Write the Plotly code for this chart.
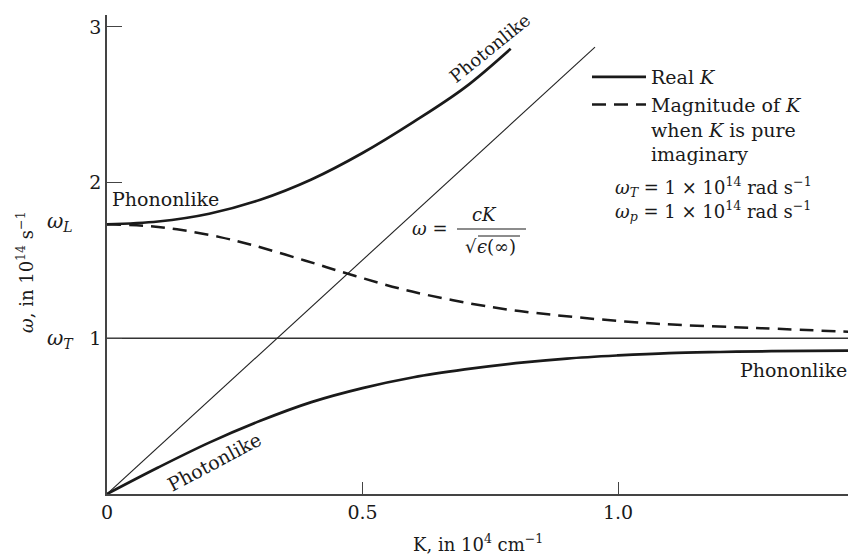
import plotly.graph_objects as go

# ---- data (K in 1e4 cm^-1, omega in 1e14 s^-1) ----
K_upper = [0.0, 0.1, 0.2, 0.3, 0.4, 0.5, 0.6, 0.7, 0.79]
w_upper = [1.732, 1.75, 1.80, 1.89, 2.02, 2.19, 2.39, 2.61, 2.86]

K_lower = [0.0, 0.1, 0.2, 0.3, 0.4, 0.5, 0.6, 0.7, 0.8, 0.9, 1.0, 1.1, 1.2, 1.3, 1.47]
w_lower = [0.0, 0.17, 0.33, 0.47, 0.59, 0.68, 0.75, 0.80, 0.84, 0.87, 0.89, 0.905, 0.912, 0.917, 0.922]

K_imag = [0.0, 0.084, 0.137, 0.221, 0.283, 0.387, 0.486, 0.597, 0.753, 0.874, 1.07, 1.28, 1.47]
w_imag = [1.732, 1.72, 1.70, 1.65, 1.60, 1.50, 1.40, 1.30, 1.20, 1.15, 1.095, 1.065, 1.04]

K_light = [0.0, 0.955]
w_light = [0.0, 2.87]

K_wT = [0.0, 1.47]
w_wT = [1.0, 1.0]

x_tickvals = [0, 0.5, 1.0]
x_ticktext = ["0", "0.5", "1.0"]
y_tickvals = [1, 2, 3]
y_ticktext = ["1", "2", "3"]

# ---- layout geometry (page pixels; the page body has an 8px margin) ----
OFF = 8
W, H = 848, 548
PLOT_L, PLOT_R, PLOT_T, PLOT_B = 107, 856, 15, 494          # page pixels
ML = PLOT_L - OFF
MT = PLOT_T - OFF
MR = W - (PLOT_R - OFF)
MB = H - (PLOT_B - OFF)
PW = PLOT_R - PLOT_L
PH = PLOT_B - PLOT_T
XMAX = PW / 511.0
YMAX = PH / 155.7

def PX(px):
    return (px - PLOT_L) / PW

def PY(py):
    return (PLOT_B - py) / PH

FONT = "DejaVu Serif"
INK = "#1a1a1a"

fig = go.Figure()

fig.add_trace(go.Scatter(x=K_wT, y=w_wT, mode="lines",
                         line=dict(color="#333", width=1.4), showlegend=False, hoverinfo="skip"))
fig.add_trace(go.Scatter(x=K_light, y=w_light, mode="lines",
                         line=dict(color="#222", width=1.1), showlegend=False, hoverinfo="skip"))
fig.add_trace(go.Scatter(x=K_upper, y=w_upper, mode="lines", name="Real <i>K</i>",
                         line=dict(color=INK, width=2.7, shape="spline"), legendgroup="a"))
fig.add_trace(go.Scatter(x=K_lower, y=w_lower, mode="lines", name="Real <i>K</i>",
                         line=dict(color=INK, width=2.7, shape="spline"), showlegend=False))
fig.add_trace(go.Scatter(x=K_imag, y=w_imag, mode="lines",
                         name="Magnitude of <i>K</i><br>when <i>K</i> is pure<br>imaginary",
                         line=dict(color=INK, width=2.5, shape="spline", dash="14px,8px")))

ann = []
def A(px, py, text, size=19, angle=0, xanchor="center", yanchor="middle"):
    ann.append(dict(x=PX(px), y=PY(py), xref="paper", yref="paper", text=text, showarrow=False,
                    font=dict(family=FONT, size=size, color=INK), textangle=angle,
                    xanchor=xanchor, yanchor=yanchor))

# labels on the curves
A(110, 199, "Phononlike", xanchor="left")
A(489, 48, "Photonlike", size=18, angle=-39)
A(214, 462, "Photonlike", angle=-28)
A(849, 370, "Phononlike", xanchor="right")
# formula for the light line
A(430, 228, "<i>ω</i> =", size=18)
A(484, 214, "<i>cK</i>", size=18)
A(471, 246, "√", size=18)
A(496, 246, "<i>ϵ</i>(∞)", size=18)
# omega labels on the y-axis side
A(60, 222, "<i>ω</i><sub><i>L</i></sub>", size=20)
A(60, 339, "<i>ω</i><sub><i>T</i></sub>", size=20)
# axis titles
A(478, 543, "K, in 10<sup>4</sup> cm<sup>−1</sup>", size=18)
A(25, 272, "<i>ω</i>, in 10<sup>14</sup> s<sup>−1</sup>", size=18, angle=-90)
# parameters
A(613, 187, "<i>ω</i><sub><i>T</i></sub> = 1 × 10<sup>14</sup> rad s<sup>−1</sup>", size=18, xanchor="left")
A(613, 211, "<i>ω</i><sub><i>p</i></sub> = 1 × 10<sup>14</sup> rad s<sup>−1</sup>", size=18, xanchor="left")

shapes = [
    dict(type="line", xref="paper", yref="paper", x0=PX(457), x1=PX(526), y0=PY(229), y1=PY(229),
         line=dict(color=INK, width=1.1)),
    dict(type="line", xref="paper", yref="paper", x0=PX(478), x1=PX(520), y0=PY(236), y1=PY(236),
         line=dict(color=INK, width=1.0)),
]

fig.update_layout(
    width=W, height=H,
    margin=dict(l=ML, r=MR, t=MT, b=MB, pad=0),
    paper_bgcolor="white", plot_bgcolor="white",
    font=dict(family=FONT, size=19, color=INK),
    annotations=ann, shapes=shapes,
    showlegend=True,
    legend=dict(x=PX(587), y=PY(58), xanchor="left", yanchor="top", valign="top",
                bgcolor="rgba(0,0,0,0)", borderwidth=0, itemwidth=54,
                font=dict(family=FONT, size=19, color=INK), tracegroupgap=0,
                itemclick=False, itemdoubleclick=False),
    xaxis=dict(range=[0, XMAX], showgrid=False, zeroline=False, showline=True,
               linecolor="#444", linewidth=1.6, ticks="inside", ticklen=12,
               tickcolor="#444", tickwidth=1.2, tickvals=x_tickvals, ticktext=x_ticktext,
               tickfont=dict(family=FONT, size=19, color=INK), fixedrange=True),
    yaxis=dict(range=[0, YMAX], showgrid=False, zeroline=False, showline=True,
               linecolor="#444", linewidth=1.6, ticks="inside", ticklen=15,
               tickcolor="#444", tickwidth=1.2, tickvals=y_tickvals, ticktext=y_ticktext,
               tickfont=dict(family=FONT, size=19, color=INK), fixedrange=True),
)

fig.write_html("out.html")
